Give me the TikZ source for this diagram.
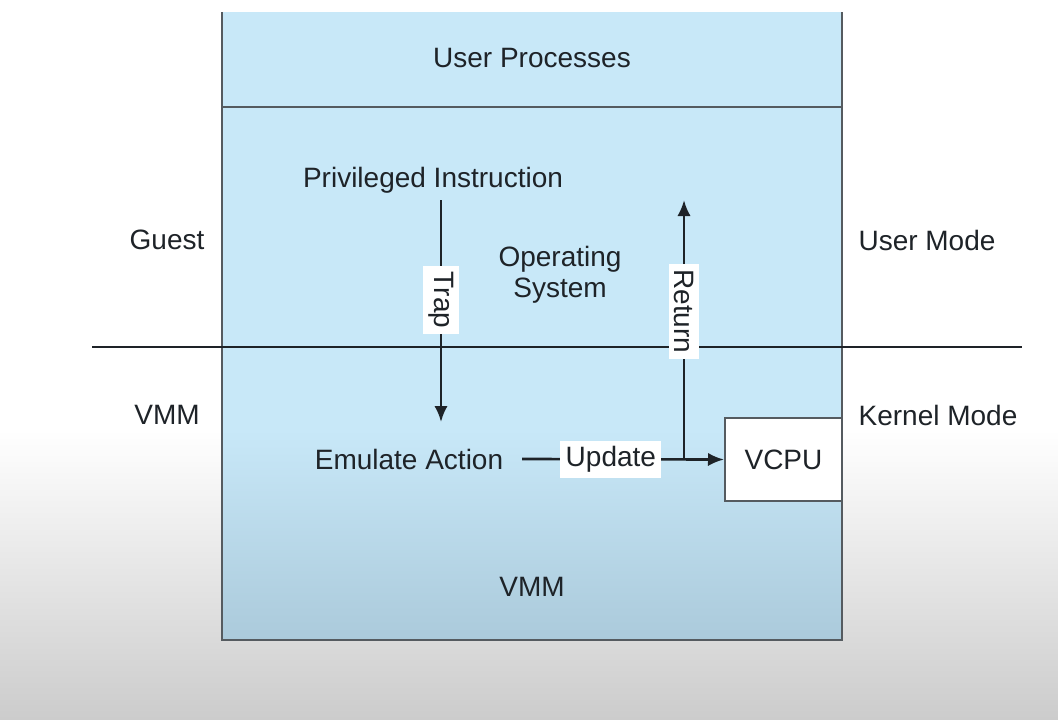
\documentclass[tikz,border=0pt]{standalone}
\usepackage{fontspec}
\setmainfont{Liberation Sans}
\usetikzlibrary{arrows.meta}
\definecolor{boxblue}{HTML}{C8E8F8}
\definecolor{boxbluedark}{HTML}{ABCADB}
\definecolor{bggray}{HTML}{CCCCCC}
\definecolor{txt}{HTML}{1E2328}
\definecolor{edge}{HTML}{555B60}
\tikzset{
  lbl/.style={font=\fontsize{21pt}{23pt}\selectfont, text=txt, inner sep=0pt},
  tag/.style={lbl, fill=white, inner xsep=4pt, inner ysep=4pt},
  conn/.style={line width=2pt, draw=txt},
  arr/.style={conn, -{Latex[length=12pt,width=10pt]}},
}
\begin{document}
\begin{tikzpicture}[x=0.75pt,y=-0.75pt]
\useasboundingbox (0,0) rectangle (1058,719);
% background
\fill[white] (0,0) rectangle (1058,430);
\shade[top color=white,bottom color=bggray] (0,430) rectangle (1058,719);
% main box
\fill[boxblue] (222,12) rectangle (842,430);
\shade[top color=boxblue,bottom color=boxbluedark] (222,429) rectangle (842,640);
\draw[edge,line width=2pt] (222,12) -- (222,640) -- (842,640) -- (842,12);
\draw[edge,line width=2pt] (222,107) -- (842,107);
% VCPU
\node[draw=edge,line width=1.5pt,fill=white,minimum width=117*0.75pt,minimum height=83*0.75pt,anchor=north west,lbl] (vcpu) at (724,417) {VCPU};
% mode line
\coordinate (ml) at (92,347);
\coordinate (mr) at (1022,347);
\draw[conn] (ml) -- (mr);
% texts
\node[lbl] (up) at (532,58) {User Processes};
\node[lbl] (pi) at (433,180) {Privileged Instruction};
\node[lbl] (guest) at (167,240) {Guest};
\node[lbl] (umode) at (927,240) {User Mode};
\node[lbl,align=center] (os) at (560,275) {Operating\\System};
\node[lbl] (vmml) at (167,415) {VMM};
\node[lbl] (kmode) at (938,415) {Kernel Mode};
\node[lbl] (ea) at (409,459) {Emulate Action};
\node[lbl] (vmm) at (532,587) {VMM};
% connectors
\coordinate (trapTop) at (441,200);
\coordinate (trapEnd) at (441,422);
\draw[arr] (trapTop) -- node[tag,rotate=-90,pos=0.45] (trap) {Trap} (trapEnd);
\coordinate (updStart) at (522,459);
\draw[arr] (updStart) -- node[tag,pos=0.44] (upd) {Update} (vcpu.west);
\coordinate (retStart) at (684,459);
\coordinate (retEnd) at (684,200);
\draw[arr] (retStart) -- node[tag,rotate=-90,pos=0.57] (ret) {Return} (retEnd);
\end{tikzpicture}
\end{document}
